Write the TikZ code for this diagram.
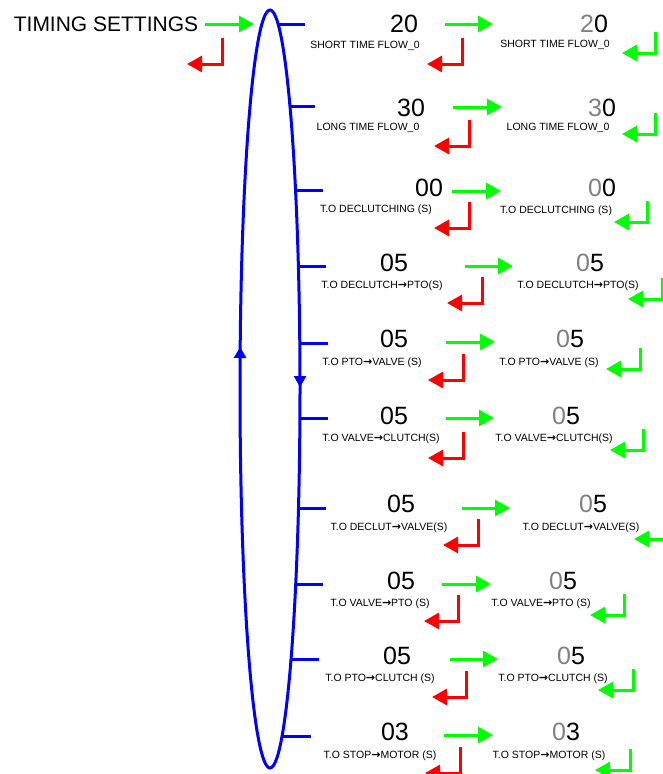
\documentclass[tikz,border=0pt]{standalone}
\usepackage{fontspec}
\setmainfont{Liberation Sans}
\newfontfamily\arrowfont{DejaVu Sans}
\usepackage{xcolor}
\usepackage{tikz}
\usetikzlibrary{arrows.meta,calc,decorations.markings}
\definecolor{flowgreen}{RGB}{0,255,0}
\definecolor{flowred}{RGB}{255,0,0}
\definecolor{flowblue}{RGB}{0,0,255}
\newcommand{\dimd}[1]{\textcolor{black!50}{#1}}
\newcommand{\toarr}{{\arrowfont\bfseries\fontsize{11}{11}\selectfont →}}

\begin{document}
\begin{tikzpicture}[
      x=1pt, y=-1pt,
      num/.style={font=\fontsize{25}{25}\selectfont, inner sep=0pt, text height=18pt, text depth=0pt},
      lab/.style={font=\fontsize{10.5}{10.5}\selectfont, inner sep=0pt, text height=7.5pt, text depth=0pt},
      garr/.style={-{Triangle[length=15pt,width=16pt]}, line width=3pt, draw=flowgreen},
      rarr/.style={-{Triangle[length=15pt,width=16pt]}, line width=3pt, draw=flowred},
      tick/.style={line width=3pt, draw=flowblue},
      loopline/.style={line width=3pt, draw=flowblue, postaction={decorate},
        decoration={markings,
          mark=at position 2pt with {\arrowreversed[flowblue]{Triangle[length=11pt,width=12pt]}},
          mark=at position 0.4726 with {\arrowreversed[flowblue]{Triangle[length=11pt,width=12pt]}}}}
    ]
      \useasboundingbox (0,0) rectangle (663,774);
      % loop of settings
      \draw[loopline] (270,389) ellipse [x radius=30pt, y radius=379pt];
      \node[font=\fontsize{21}{21}\selectfont, inner sep=0pt, text height=15pt, text depth=0pt] (title) at (106,24) {TIMING SETTINGS};
      \coordinate (g0) at (205,24);
      \coordinate (r0) at (222,38);
      \draw[garr] (g0) -- ++(49,0);
      \draw[rarr] (r0) -- ++(0,26) -- ++(-35,0);

      % short time flow
      \node[num] (n1) at (404,23) {20};
      \node[lab] (l1) at (365,45) {SHORT TIME FLOW\_0};
      \node[num] (m1) at (594,23) {\dimd{2}0};
      \node[lab] (k1) at (555,44) {SHORT TIME FLOW\_0};
      \coordinate (g1) at (445,24);
      \coordinate (r1) at (462,38);
      \coordinate (b1) at (655,32);
      \draw[tick] (277,24) -- (305,24);
      \draw[garr] (g1) -- ++(48,0);
      \draw[rarr] (r1) -- ++(0,26) -- ++(-35,0);
      \draw[garr] (b1) -- ++(0,21) -- ++(-33,0);

      % long time flow
      \node[num] (n2) at (411,107) {30};
      \node[lab] (l2) at (368,127) {LONG TIME FLOW\_0};
      \node[num] (m2) at (602,107) {\dimd{3}0};
      \node[lab] (k2) at (558,127) {LONG TIME FLOW\_0};
      \coordinate (g2) at (453,107);
      \coordinate (r2) at (469,120);
      \coordinate (b2) at (655,113);
      \draw[tick] (289,106) -- (315,106);
      \draw[garr] (g2) -- ++(49,0);
      \draw[rarr] (r2) -- ++(0,26) -- ++(-35,0);
      \draw[garr] (b2) -- ++(0,21) -- ++(-33,0);

      % declutching
      \node[num] (n3) at (429,187) {00};
      \node[lab] (l3) at (376,209) {T.O DECLUTCHING (S)};
      \node[num] (m3) at (602,187) {\dimd{0}0};
      \node[lab] (k3) at (556,210) {T.O DECLUTCHING (S)};
      \coordinate (g3) at (452,191);
      \coordinate (r3) at (469,202);
      \coordinate (b3) at (647,201);
      \draw[tick] (295,190) -- (323,190);
      \draw[garr] (g3) -- ++(49,0);
      \draw[rarr] (r3) -- ++(0,26) -- ++(-35,0);
      \draw[garr] (b3) -- ++(0,21) -- ++(-33,0);

      % declutch to pto
      \node[num] (n4) at (394,262) {05};
      \node[lab] (l4) at (382,285) {T.O DECLUTCH\toarr PTO(S)};
      \node[num] (m4) at (590,262) {\dimd{0}5};
      \node[lab] (k4) at (578,285) {T.O DECLUTCH\toarr PTO(S)};
      \coordinate (g4) at (465,266);
      \coordinate (r4) at (482,277);
      \coordinate (b4) at (662,278);
      \draw[tick] (298,266) -- (326,266);
      \draw[garr] (g4) -- ++(48,0);
      \draw[rarr] (r4) -- ++(0,26) -- ++(-35,0);
      \draw[garr] (b4) -- ++(0,21) -- ++(-34,0);

      % pto to valve
      \node[num] (n5) at (394,338) {05};
      \node[lab] (l5) at (372,362) {T.O PTO\toarr VALVE (S)};
      \node[num] (m5) at (570,338) {\dimd{0}5};
      \node[lab] (k5) at (549,362) {T.O PTO\toarr VALVE (S)};
      \coordinate (g5) at (446,342);
      \coordinate (r5) at (463,354);
      \coordinate (b5) at (640,348);
      \draw[tick] (299,343) -- (328,343);
      \draw[garr] (g5) -- ++(49,0);
      \draw[rarr] (r5) -- ++(0,26) -- ++(-35,0);
      \draw[garr] (b5) -- ++(0,21) -- ++(-34,0);

      % valve to clutch
      \node[num] (n6) at (394,415) {05};
      \node[lab] (l6) at (381,438) {T.O VALVE\toarr CLUTCH(S)};
      \node[num] (m6) at (566,415) {\dimd{0}5};
      \node[lab] (k6) at (554,438) {T.O VALVE\toarr CLUTCH(S)};
      \coordinate (g6) at (446,418);
      \coordinate (r6) at (463,432);
      \coordinate (b6) at (643,429);
      \draw[tick] (299,418) -- (328,418);
      \draw[garr] (g6) -- ++(48,0);
      \draw[rarr] (r6) -- ++(0,26) -- ++(-35,0);
      \draw[garr] (b6) -- ++(0,21) -- ++(-33,0);

      % declutch to valve
      \node[num] (n7) at (401,503) {05};
      \node[lab] (l7) at (389,527) {T.O DECLUT\toarr VALVE(S)};
      \node[num] (m7) at (593,503) {\dimd{0}5};
      \node[lab] (k7) at (581,527) {T.O DECLUT\toarr VALVE(S)};
      \coordinate (g7) at (462,508);
      \coordinate (r7) at (478,519);
      \coordinate (b7) at (668,518);
      \draw[tick] (298,508) -- (326,508);
      \draw[garr] (g7) -- ++(48,0);
      \draw[rarr] (r7) -- ++(0,26) -- ++(-35,0);
      \draw[garr] (b7) -- ++(0,21) -- ++(-34,0);

      % valve to pto
      \node[num] (n8) at (401,580) {05};
      \node[lab] (l8) at (380,603) {T.O VALVE\toarr PTO (S)};
      \node[num] (m8) at (563,580) {\dimd{0}5};
      \node[lab] (k8) at (541,603) {T.O VALVE\toarr PTO (S)};
      \coordinate (g8) at (442,584);
      \coordinate (r8) at (458,595);
      \coordinate (b8) at (624,594);
      \draw[tick] (295,584) -- (323,584);
      \draw[garr] (g8) -- ++(49,0);
      \draw[rarr] (r8) -- ++(0,26) -- ++(-34,0);
      \draw[garr] (b8) -- ++(0,21) -- ++(-34,0);

      % pto to clutch
      \node[num] (n9) at (397,655) {05};
      \node[lab] (l9) at (380,678) {T.O PTO\toarr CLUTCH (S)};
      \node[num] (m9) at (571,655) {\dimd{0}5};
      \node[lab] (k9) at (553,678) {T.O PTO\toarr CLUTCH (S)};
      \coordinate (g9) at (450,659);
      \coordinate (r9) at (466,671);
      \coordinate (b9) at (633,669);
      \draw[tick] (290,659) -- (319,659);
      \draw[garr] (g9) -- ++(48,0);
      \draw[rarr] (r9) -- ++(0,26) -- ++(-34,0);
      \draw[garr] (b9) -- ++(0,21) -- ++(-35,0);

      % stop to motor
      \node[num] (n10) at (395,731) {03};
      \node[lab] (l10) at (380,755) {T.O STOP\toarr MOTOR (S)};
      \node[num] (m10) at (566,731) {\dimd{0}3};
      \node[lab] (k10) at (549,755) {T.O STOP\toarr MOTOR (S)};
      \coordinate (g10) at (444,735);
      \coordinate (r10) at (460,747);
      \coordinate (b10) at (630,749);
      \draw[tick] (281,736) -- (311,736);
      \draw[garr] (g10) -- ++(49,0);
      \draw[rarr] (r10) -- ++(0,26) -- ++(-35,0);
      \draw[garr] (b10) -- ++(0,21) -- ++(-35,0);
    \end{tikzpicture}
\end{document}
